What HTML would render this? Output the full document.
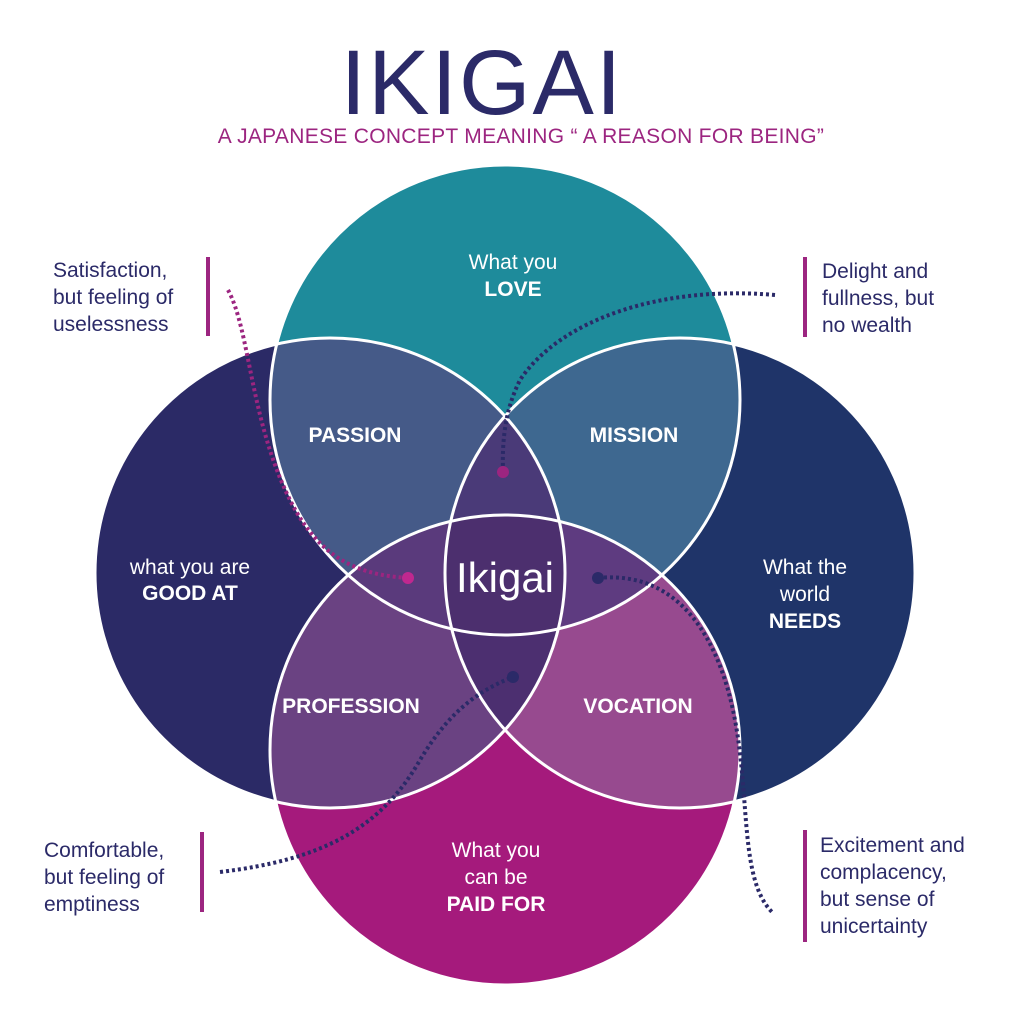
<!DOCTYPE html>
<html><head><meta charset="utf-8"><style>
html,body{margin:0;padding:0;background:#fff;}
svg{display:block;font-family:"Liberation Sans",sans-serif;}
</style></head><body>
<svg width="1017" height="1017" viewBox="0 0 1017 1017" xmlns="http://www.w3.org/2000/svg">
<defs>
<clipPath id="cT"><circle cx="505" cy="400" r="235"/></clipPath>
<clipPath id="cL"><circle cx="330" cy="573" r="235"/></clipPath>
<clipPath id="cR"><circle cx="680" cy="573" r="235"/></clipPath>
<clipPath id="cB"><circle cx="505" cy="750" r="235"/></clipPath>
</defs>
<rect width="1017" height="1017" fill="#fff"/>
<text x="482" y="114" text-anchor="middle" font-size="92" fill="#2b2a68" letter-spacing="2">IKIGAI</text>
<text x="521" y="143" text-anchor="middle" font-size="21" fill="#9c2580" letter-spacing="0.3">A JAPANESE CONCEPT MEANING “ A REASON FOR BEING”</text>

<circle cx="505" cy="400" r="235" fill="#1e8b9b"/>
<circle cx="330" cy="573" r="235" fill="#2b2a66"/>
<circle cx="680" cy="573" r="235" fill="#1f3469"/>
<circle cx="505" cy="750" r="235" fill="#a51a7c"/>
<g clip-path="url(#cT)"><circle cx="330" cy="573" r="235" fill="#455a88"/><circle cx="680" cy="573" r="235" fill="#3e6890"/></g>
<g clip-path="url(#cB)"><circle cx="330" cy="573" r="235" fill="#6a4282"/><circle cx="680" cy="573" r="235" fill="#974a8f"/></g>
<g clip-path="url(#cT)"><g clip-path="url(#cL)"><circle cx="680" cy="573" r="235" fill="#4a3a78"/><circle cx="505" cy="750" r="235" fill="#5a3a7c"/></g></g>
<g clip-path="url(#cB)"><g clip-path="url(#cR)"><circle cx="330" cy="573" r="235" fill="#4c2f70"/><circle cx="505" cy="400" r="235" fill="#5e3b80"/></g></g>
<g clip-path="url(#cT)"><g clip-path="url(#cL)"><g clip-path="url(#cR)"><circle cx="505" cy="750" r="235" fill="#4c2f6e"/></g></g></g>
<g fill="none" stroke="#fff" stroke-width="3">
<circle cx="505" cy="400" r="235"/><circle cx="330" cy="573" r="235"/>
<circle cx="680" cy="573" r="235"/><circle cx="505" cy="750" r="235"/>
</g>

<g fill="none" stroke-width="4" stroke-dasharray="3 3">
<path d="M228 290 C250 330 250 420 290 500 C320 560 360 575 408 578" stroke="#9c2580"/>
<path d="M775 295 C660 285 560 320 520 380 C505 410 502 440 503 472" stroke="#2b2a68"/>
<path d="M220 872 C320 860 380 830 420 760 C450 710 480 690 513 677" stroke="#2b2a68"/>
<path d="M598 578 C680 570 720 640 735 720 C750 800 740 880 772 912" stroke="#2b2a68"/>
</g>
<circle cx="408" cy="578" r="6" fill="#c0288f"/>
<circle cx="503" cy="472" r="6" fill="#9c2580"/>
<circle cx="513" cy="677" r="6" fill="#2b2a68"/>
<circle cx="598" cy="578" r="6" fill="#2b2a68"/>

<g fill="#fff" text-anchor="middle">
<text x="513" y="269" font-size="21">What you</text>
<text x="513" y="296" font-size="21" font-weight="bold">LOVE</text>
<text x="355" y="442" font-size="21" font-weight="bold">PASSION</text>
<text x="634" y="442" font-size="21" font-weight="bold">MISSION</text>
<text x="190" y="574" font-size="21">what you are</text>
<text x="190" y="600" font-size="21" font-weight="bold">GOOD AT</text>
<text x="505" y="592" font-size="42">Ikigai</text>
<text x="805" y="574" font-size="21">What the</text>
<text x="805" y="601" font-size="21">world</text>
<text x="805" y="628" font-size="21" font-weight="bold">NEEDS</text>
<text x="351" y="713" font-size="21" font-weight="bold">PROFESSION</text>
<text x="638" y="713" font-size="21" font-weight="bold">VOCATION</text>
<text x="496" y="857" font-size="21">What you</text>
<text x="496" y="884" font-size="21">can be</text>
<text x="496" y="911" font-size="21" font-weight="bold">PAID FOR</text>
</g>

<g fill="#2b2a68" font-size="21">
<text x="53" y="277">Satisfaction,</text>
<text x="53" y="304">but feeling of</text>
<text x="53" y="331">uselessness</text>
<text x="822" y="278">Delight and</text>
<text x="822" y="305">fullness, but</text>
<text x="822" y="332">no wealth</text>
<text x="44" y="857">Comfortable,</text>
<text x="44" y="884">but feeling of</text>
<text x="44" y="911">emptiness</text>
<text x="820" y="852">Excitement and</text>
<text x="820" y="879">complacency,</text>
<text x="820" y="906">but sense of</text>
<text x="820" y="933">unicertainty</text>
</g>
<g fill="#9c2580">
<rect x="206" y="257" width="4" height="79"/>
<rect x="803" y="257" width="4" height="80"/>
<rect x="200" y="832" width="4" height="80"/>
<rect x="803" y="830" width="4" height="112"/>
</g>
</svg>
</body></html>
